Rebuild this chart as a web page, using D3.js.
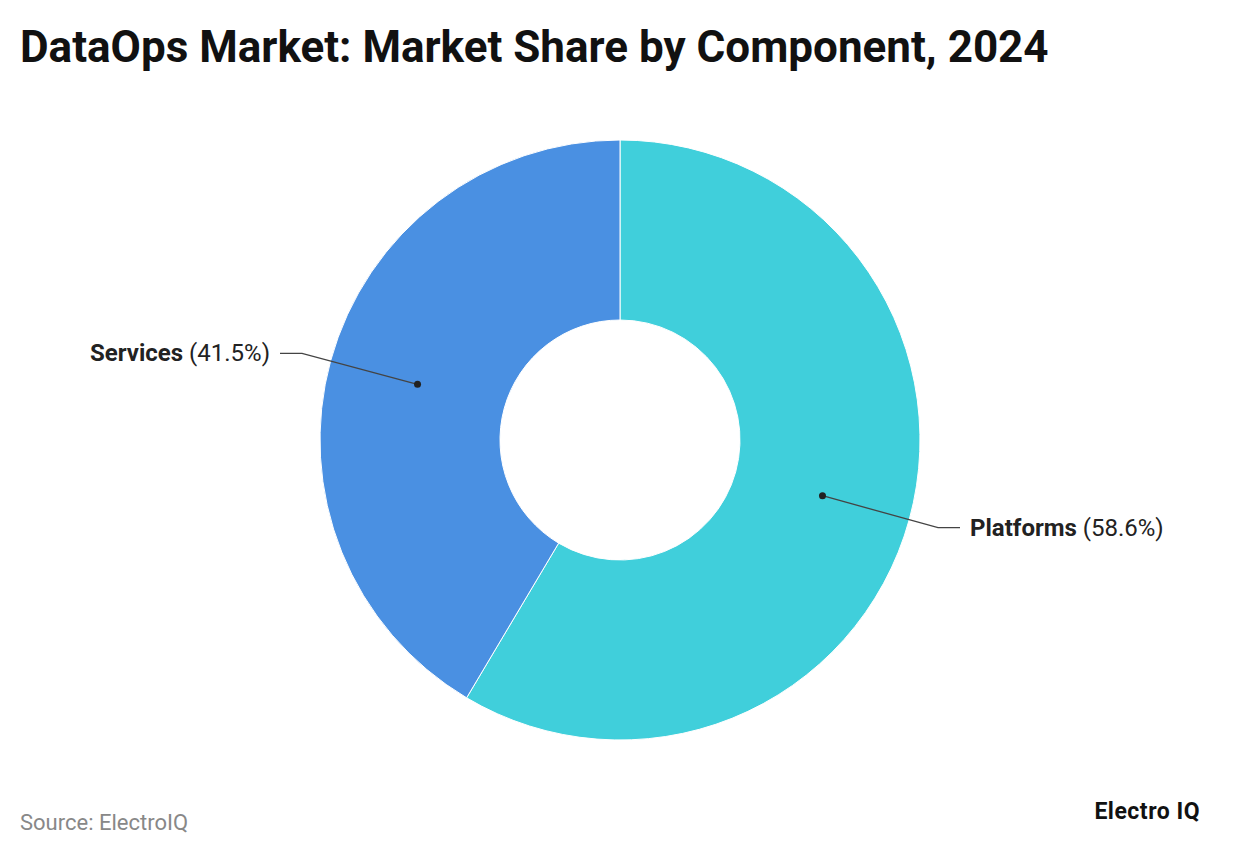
<!DOCTYPE html>
<html>
<head>
<meta charset="utf-8">
<script src="https://cdn.jsdelivr.net/npm/d3@7"></script>
<style>
  body { margin: 0; background: #fff; font-family: Roboto, sans-serif; }
</style>
</head>
<body>
<svg id="chart" width="1240" height="856"></svg>
<script>
const categories = ["Platforms", "Services"];
const shares = [58.6, 41.5];
const colors = ["#40CFDB", "#4A90E2"];

const W = 1240, H = 856;
const cx = 620, cy = 440, outerR = 300, innerR = 120;

const svg = d3.select("#chart");

svg.append("text")
  .attr("x", 20).attr("y", 62)
  .style("font-size", "44px").style("font-weight", "700").attr("fill", "#111")
  .text("DataOps Market: Market Share by Component, 2024");

const pie = d3.pie().sort(null).value(d => d.v);
const data = pie(categories.map((c, i) => ({ c, v: shares[i], col: colors[i] })));
const arc = d3.arc().innerRadius(innerR).outerRadius(outerR);
const mid = d3.arc().innerRadius(210).outerRadius(210);

const g = svg.append("g").attr("transform", `translate(${cx},${cy})`);
g.selectAll("path").data(data).enter().append("path")
  .attr("d", arc).attr("fill", d => d.data.col)
  .attr("stroke", "#fff").attr("stroke-width", 1);

// labels with leader lines
data.forEach(d => {
  const [px, py] = mid.centroid(d);
  const right = px > 0;
  const ex = right ? 318 : -318, ey = py + (right ? 32 : -31);
  const hx = right ? 340 : -340;
  g.append("polyline")
    .attr("points", `${px},${py} ${ex},${ey} ${hx},${ey}`)
    .attr("fill", "none").attr("stroke", "#444").attr("stroke-width", 1.3);
  g.append("circle").attr("cx", px).attr("cy", py).attr("r", 3.5).attr("fill", "#222");
  const t = g.append("text")
    .attr("x", right ? hx + 10 : hx - 10).attr("y", ey + 8)
    .attr("text-anchor", right ? "start" : "end")
    .style("font-size", "24px").attr("fill", "#222");
  t.append("tspan").style("font-weight", "700").text(d.data.c);
  t.append("tspan").text(` (${d.data.v}%)`);
});

svg.append("text")
  .attr("x", 20).attr("y", 830)
  .style("font-size", "22px").attr("fill", "#888")
  .text("Source: ElectroIQ");

svg.append("text")
  .attr("x", 1200).attr("y", 819).attr("text-anchor", "end")
  .style("font-size", "23px").style("font-weight", "700").attr("fill", "#111")
  .style("letter-spacing", "0.5px")
  .text("Electro IQ");
</script>
</body>
</html>
